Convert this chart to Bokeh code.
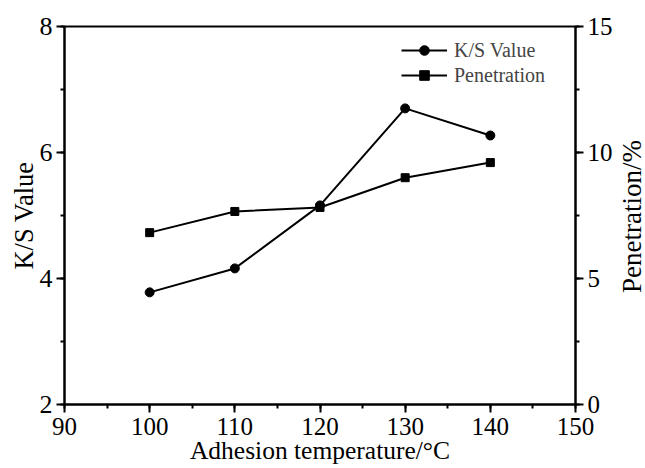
import math
from bokeh.plotting import figure
from bokeh.models import Range1d, LinearAxis, SingleIntervalTicker, Legend, LegendItem, Label
from bokeh.embed import file_html
from bokeh.resources import INLINE

temperature = [100, 110, 120, 130, 140]
ks_value = [3.78, 4.16, 5.16, 6.70, 6.27]
penetration = [6.82, 7.66, 7.82, 9.0, 9.6]

x_title = "Adhesion temperature/°C"
y_title = "K/S Value"
y2_title = "Penetration/%"

FONT = "Liberation Serif"

p = figure(width=645, height=468, output_backend="svg", toolbar_location=None,
           x_range=Range1d(90, 150), y_range=Range1d(2, 8),
           min_border_left=64, min_border_right=67, min_border_top=26, min_border_bottom=64)
p.extra_y_ranges = {"pen": Range1d(0, 15)}
p.xgrid.visible = False
p.ygrid.visible = False
p.outline_line_color = "black"
p.outline_line_width = 2
p.background_fill_color = "white"
p.border_fill_color = "white"

p.xaxis.ticker = SingleIntervalTicker(interval=10, num_minor_ticks=2)
p.yaxis.ticker = SingleIntervalTicker(interval=2, num_minor_ticks=2)
p.xaxis.axis_label = x_title
p.yaxis.axis_label = y_title

right = LinearAxis(y_range_name="pen", ticker=SingleIntervalTicker(interval=5, num_minor_ticks=2))
p.add_layout(right, "right")

for ax in [p.xaxis[0], p.yaxis[0], right]:
    ax.axis_line_width = 2
    ax.axis_line_color = "black"
    ax.major_tick_line_width = 2
    ax.minor_tick_line_width = 2
    ax.major_tick_out = 8
    ax.major_tick_in = 0
    ax.minor_tick_out = 4
    ax.minor_tick_in = 0
    ax.major_label_text_font = FONT
    ax.major_label_text_font_size = "26px"
    ax.major_label_text_color = "black"
    ax.axis_label_text_font = FONT
    ax.axis_label_text_font_size = "26.5px"
    ax.axis_label_text_font_style = "normal"
    ax.axis_label_text_color = "black"

p.xaxis[0].major_label_text_font_size = "25px"
p.xaxis[0].major_label_standoff = 5
p.xaxis[0].axis_label_text_font_size = "25.5px"
p.xaxis[0].axis_label_standoff = -2
p.yaxis[0].major_label_standoff = 4
p.yaxis[0].axis_label_standoff = -2
right.major_label_text_font_size = "25px"
right.major_label_standoff = 4

# right-hand title, read from bottom to top, in the right side panel
p.add_layout(Label(x=16, y=188, x_units="screen", y_units="screen", text=y2_title,
                   angle=math.pi / 2, text_align="center", text_baseline="middle",
                   text_font=FONT, text_font_size="27px", text_color="black"), "right")

l1 = p.line(temperature, ks_value, line_color="black", line_width=2)
s1 = p.scatter(temperature, ks_value, marker="circle", size=9, fill_color="black", line_color="black")
l2 = p.line(temperature, penetration, line_color="black", line_width=2, y_range_name="pen")
s2 = p.scatter(temperature, penetration, marker="square", size=8, fill_color="black", line_color="black",
               y_range_name="pen")

legend = Legend(items=[LegendItem(label="K/S Value", renderers=[l1, s1]),
                       LegendItem(label="Penetration", renderers=[l2, s2])],
                location=(337, 317), padding=0, margin=0, spacing=1,
                glyph_width=46, glyph_height=24, label_standoff=7,
                label_text_font=FONT, label_text_font_size="20px",
                border_line_color=None, background_fill_alpha=0)
p.add_layout(legend)

open("out.html", "w").write(file_html(p, INLINE))
